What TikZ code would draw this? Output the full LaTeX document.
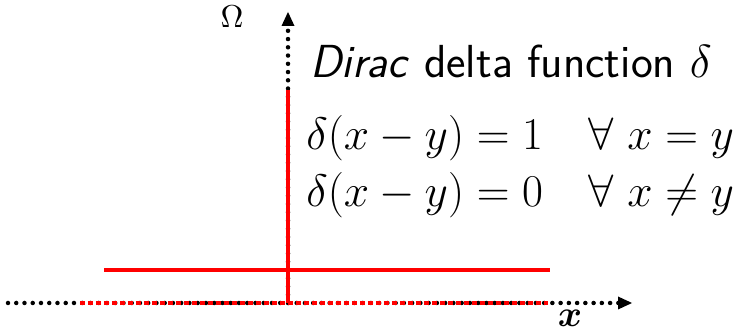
\documentclass[tikz,border=0pt]{standalone}
\usepackage{amsmath,amssymb}
\usepackage{bm}
\usepackage{tikz}
\usetikzlibrary{positioning,arrows.meta,calc}
\usepackage{xcolor}
\definecolor{deltared}{HTML}{FF0000}

\begin{document}
\begin{tikzpicture}[x=0.02cm, y=0.02cm,
    axisdots/.style={line width=0.09cm, line cap=round, dash pattern=on 0pt off 0.165cm},
    bigtext/.style={inner sep=0pt, anchor=base west, font=\Huge\sffamily, scale=1.06},
    bigmath/.style={inner sep=0pt, anchor=base west, font=\Huge, scale=1.04}]
    \useasboundingbox (0, 0) rectangle (744, 333);

    % axes
    \coordinate (origin) at (288, 30);
    \coordinate (xstart) at (8, 30);
    \coordinate (xend) at (632, 30);
    \coordinate (yend) at (288, 321);
    \draw[axisdots] (xstart) -- ($(xend)+(-12, 0)$);
    \fill (xend) -- ++(-14, 6.5) -- ++(0, -13) -- cycle;
    \draw[axisdots] (origin) -- ($(yend)+(0, -12)$);
    \fill (yend) -- ++(-6.5, -14) -- ++(13, 0) -- cycle;
    \node[scale=1.8, inner sep=0pt] (omega) at (232, 316) {$\Omega$};
    \node[scale=2.1, inner sep=0pt] (xlabel) at (570, 15) {$\bm{x}$};

    % delta and the constant
    \coordinate (dleft) at (80, 30);
    \coordinate (dright) at (548, 30);
    \coordinate (dtop) at (288, 243);
    \coordinate (cleft) at (104, 63);
    \coordinate (cright) at (550, 63);
    \draw[deltared, line width=0.09cm, dash pattern=on 0.1cm off 0.06cm] (dleft) -- (dright);
    \draw[deltared, line width=0.08cm] (cleft) -- (cright);
    \draw[deltared, line width=0.08cm] (origin) -- (dtop);

    % text
    \node[bigtext] (title) at (310, 255) {\textsl{Dirac} delta function $\delta$};
    \node[bigmath] (eqone) at (306, 183) {$\delta(x-y)=1 \quad \forall\ x=y$};
    \node[bigmath] (eqzero) at (306, 126) {$\delta(x-y)=0 \quad \forall\ x\neq y$};
\end{tikzpicture}
\end{document}
